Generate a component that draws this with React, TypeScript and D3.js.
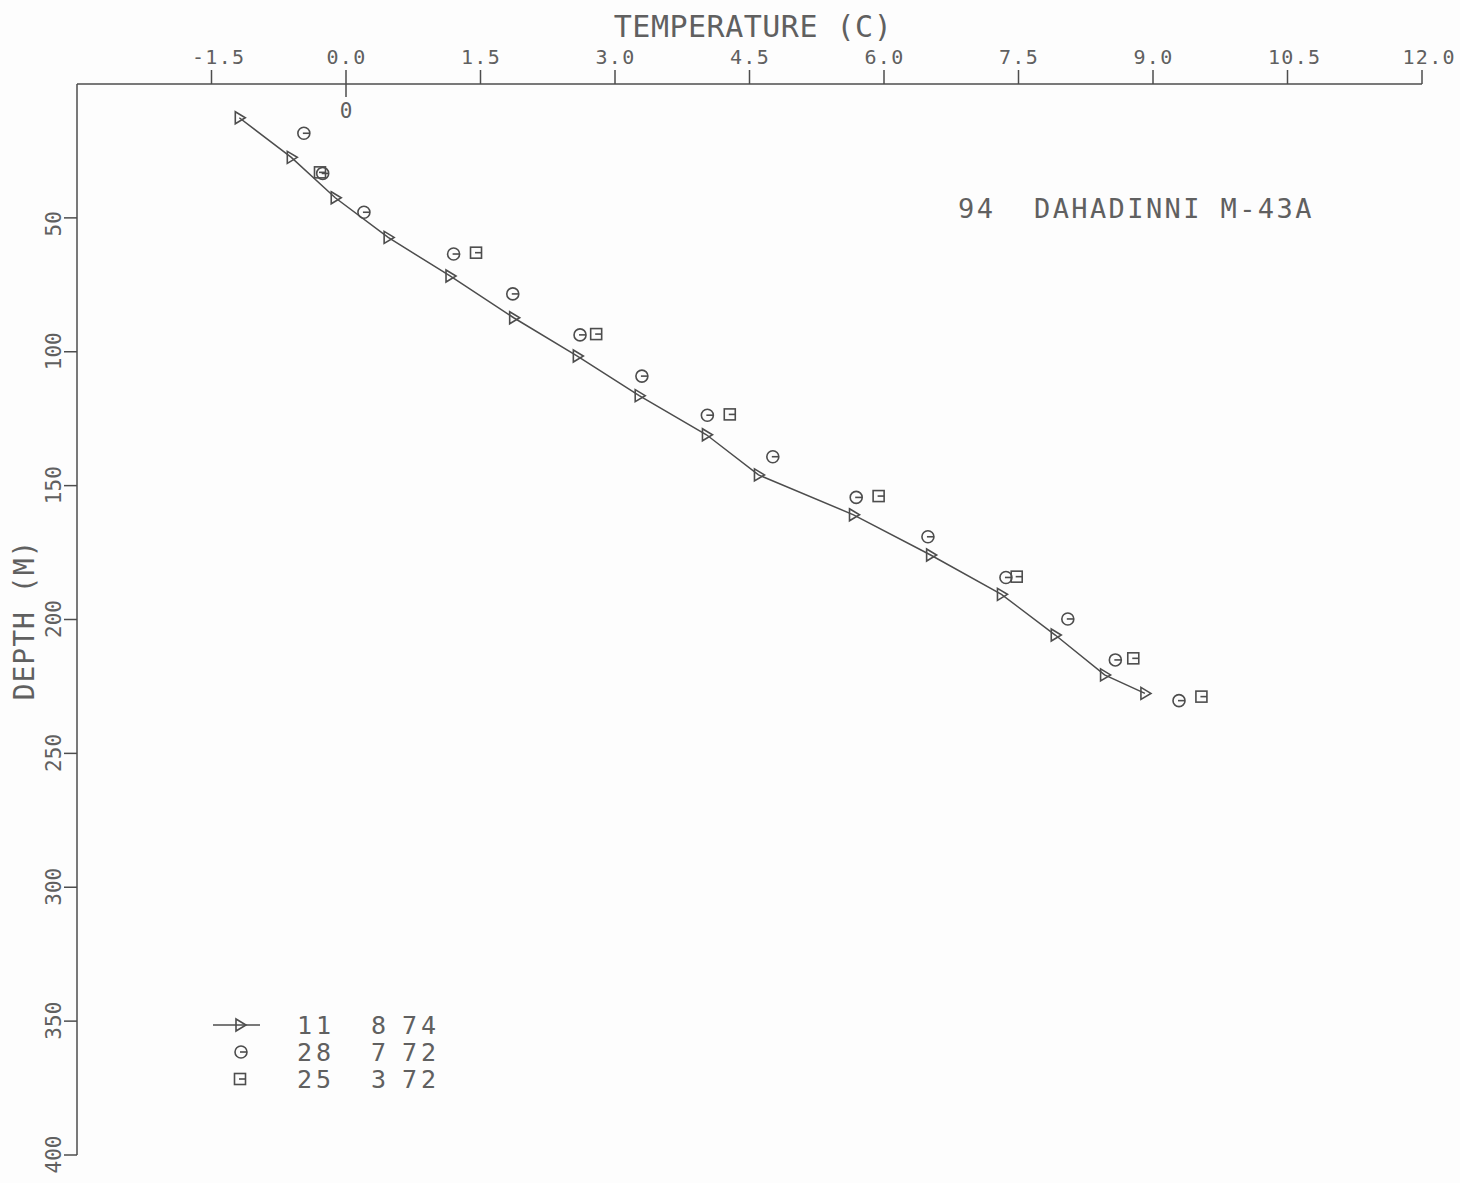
import React from "react";
import * as d3 from "d3";

// Temperature logs for well 94 DAHADINNI M-43A
const tempTicks = [-1.5, 0, 1.5, 3, 4.5, 6, 7.5, 9, 10.5, 12];
const depthTicks = [50, 100, 150, 200, 250, 300, 350, 400];

// 11 8 74 (triangles, joined by a line)
const aug74Temp = [-1.19, -0.61, -0.12, 0.47, 1.16, 1.87, 2.58, 3.27, 4.02, 4.6, 5.66, 6.52, 7.31, 7.91, 8.46, 8.91];
const aug74Depth = [12.6, 27.4, 42.5, 57.3, 71.7, 87.3, 101.6, 116.4, 131.0, 146.0, 160.9, 175.9, 190.6, 205.8, 220.7, 227.6];

// 28 7 72 (circles)
const jul72Temp = [-0.47, -0.26, 0.2, 1.2, 1.86, 2.61, 3.3, 4.03, 4.76, 5.69, 6.49, 7.36, 8.05, 8.58, 9.29];
const jul72Depth = [18.4, 33.4, 47.9, 63.5, 78.4, 93.7, 109.1, 123.7, 139.2, 154.4, 169.1, 184.3, 199.8, 215.1, 230.3];

// 25 3 72 (squares)
const mar72Temp = [-0.29, 1.45, 2.79, 4.28, 5.94, 7.48, 8.78, 9.54];
const mar72Depth = [33.0, 63.0, 93.4, 123.4, 153.9, 184.0, 214.5, 228.8];

const legendRows = [
  { day: "11", month: "8", year: "74", symbol: "triangle" },
  { day: "28", month: "7", year: "72", symbol: "circle" },
  { day: "25", month: "3", year: "72", symbol: "square" },
];

const INK = "#4d4d4d";
const TEXT_INK = "#606060";
const FONT = "'DejaVu Sans Mono', 'Liberation Mono', monospace";

const x = d3.scaleLinear().domain([-3, 12]).range([77, 1422]);
const y = d3.scaleLinear().domain([0, 400]).range([84, 1155]);

function Triangle({ cx, cy }: { cx: number; cy: number }) {
  const p = d3.path();
  p.moveTo(cx - 4, cy - 6);
  p.lineTo(cx + 6, cy);
  p.lineTo(cx - 4, cy + 6);
  p.closePath();
  return <path d={p.toString()} fill="none" stroke={INK} strokeWidth={1.6} />;
}

function Circle({ cx, cy }: { cx: number; cy: number }) {
  return (
    <g fill="none" stroke={INK} strokeWidth={1.6}>
      <circle cx={cx} cy={cy} r={6} />
      <line x1={cx - 1} y1={cy} x2={cx + 6} y2={cy} />
    </g>
  );
}

function Square({ cx, cy }: { cx: number; cy: number }) {
  return (
    <g fill="none" stroke={INK} strokeWidth={1.6}>
      <rect x={cx - 5.5} y={cy - 5.5} width={11} height={11} />
      <line x1={cx - 1} y1={cy} x2={cx + 5.5} y2={cy} />
    </g>
  );
}

export default function App() {
  const line = d3
    .line<number>()
    .x((_, i) => x(aug74Temp[i]))
    .y((_, i) => y(aug74Depth[i]));

  return (
    <div style={{ position: "absolute", left: 0, top: 0 }}>
      <svg width={1460} height={1183} style={{ display: "block", background: "#fdfdfd" }}>
        <g fill={TEXT_INK} fontFamily={FONT}>
          {/* x axis title */}
          <text x={753} y={37} fontSize={30} textAnchor="middle" letterSpacing={0.5}>
            TEMPERATURE (C)
          </text>
          {/* y axis title */}
          <text transform="translate(34,620) rotate(-90)" fontSize={28} textAnchor="middle" letterSpacing={1}>
            DEPTH (M)
          </text>
          {/* well name */}
          <text x={958} y={218} fontSize={27} letterSpacing={2.4}>94</text>
          <text x={1034} y={218} fontSize={27} letterSpacing={2.4}>DAHADINNI M-43A</text>
        </g>

        {/* axes */}
        <g stroke={INK} strokeWidth={1.5} fill="none">
          <line x1={x(-3)} y1={y(0)} x2={x(12)} y2={y(0)} />
          {tempTicks.map((t) => (
            <line key={t} x1={x(t)} x2={x(t)} y1={y(0) - 14} y2={t === 0 ? y(0) + 13 : y(0)} />
          ))}
          <line x1={x(-3)} y1={y(0)} x2={x(-3)} y2={y(400)} />
          {depthTicks.map((d) => (
            <line key={d} x1={x(-3) - 13} x2={x(-3)} y1={y(d)} y2={y(d)} />
          ))}
        </g>
        <g fill={TEXT_INK} fontFamily={FONT} fontSize={20}>
          {tempTicks.map((t) => (
            <text key={t} x={x(t) - 19.5} y={64} letterSpacing={1.3}>
              {t.toFixed(1)}
            </text>
          ))}
          <text x={x(0)} y={118} textAnchor="middle" fontSize={21}>0</text>
          {depthTicks.map((d) => (
            <text key={d} fontSize={21} transform={`translate(61,${y(d) + 18.5}) rotate(-90)`} letterSpacing={0}>
              {d}
            </text>
          ))}
        </g>

        {/* profiles */}
        <path d={line(aug74Temp) ?? ""} fill="none" stroke={INK} strokeWidth={1.5} />
        {aug74Temp.map((t, i) => (
          <Triangle key={`t${i}`} cx={x(t)} cy={y(aug74Depth[i])} />
        ))}
        {jul72Temp.map((t, i) => (
          <Circle key={`c${i}`} cx={x(t)} cy={y(jul72Depth[i])} />
        ))}
        {mar72Temp.map((t, i) => (
          <Square key={`s${i}`} cx={x(t)} cy={y(mar72Depth[i])} />
        ))}

        {/* legend */}
        <g>
          {legendRows.map((r, i) => {
            const cy = 1025 + i * 27;
            return (
              <g key={r.day + r.year}>
                {r.symbol === "triangle" && (
                  <>
                    <line x1={213} x2={260} y1={cy} y2={cy} stroke={INK} strokeWidth={1.5} />
                    <Triangle cx={240} cy={cy} />
                  </>
                )}
                {r.symbol === "circle" && <Circle cx={241} cy={cy} />}
                {r.symbol === "square" && <Square cx={240} cy={cy} />}
                <g fill={TEXT_INK} fontFamily={FONT} fontSize={25} letterSpacing={4}>
                  <text x={297} y={cy + 9}>{r.day}</text>
                  <text x={390} y={cy + 9} textAnchor="end">{r.month}</text>
                  <text x={402} y={cy + 9}>{r.year}</text>
                </g>
              </g>
            );
          })}
        </g>
      </svg>
    </div>
  );
}
